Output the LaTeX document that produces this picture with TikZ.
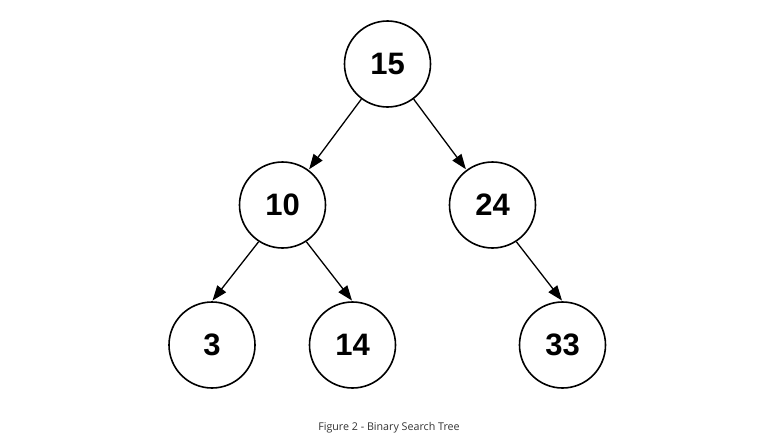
\documentclass[tikz,border=0pt]{standalone}
\usepackage{fontspec}
\setmainfont{Liberation Sans}
\newfontfamily\capfont{Open Sans}
\usetikzlibrary{arrows.meta}
\begin{document}
\begin{tikzpicture}[x=1pt,y=-1pt,
  key/.style={draw,circle,line width=1.6pt,minimum size=86pt,inner sep=0pt,
    font=\fontsize{31}{31}\selectfont\bfseries},
  link/.style={line width=1.3pt,-{Triangle[length=15pt,width=11pt]},shorten >=0.8pt}]
\useasboundingbox (0,0) rectangle (767,447);

\node[key] (n15) at (387.5,64) {15};
\node[key] (n10) at (282.5,205) {10};
\node[key] (n24) at (492.5,205) {24};
\node[key] (n3) at (212,345) {3};
\node[key] (n14) at (352.5,345) {14};
\node[key] (n33) at (562.5,345) {33};

\draw[link] (n15)--(n10);
\draw[link] (n15)--(n24);
\draw[link] (n10.237)--(n3.north);
\draw[link] (n10.303)--(n14.north);
\draw[link] (n24.303)--(n33.north);

\node[font=\capfont\fontsize{10.7}{11}\selectfont,text=black!80] (cap) at (389,428) {Figure 2 - Binary Search Tree};
\end{tikzpicture}
\end{document}
